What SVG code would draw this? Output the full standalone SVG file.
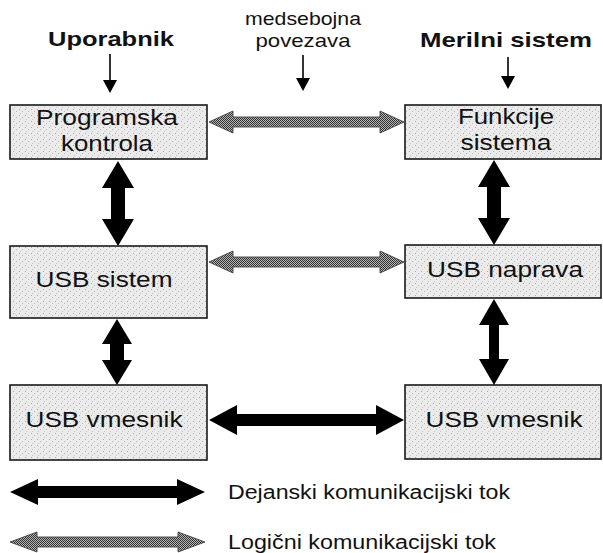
<svg xmlns="http://www.w3.org/2000/svg" width="603" height="553" viewBox="0 0 603 553">
<defs>
<pattern id="chk" width="2" height="2" patternUnits="userSpaceOnUse">
<rect width="2" height="2" fill="#b4b4b4"/>
<rect width="1" height="1" fill="#333"/>
<rect x="1" y="1" width="1" height="1" fill="#333"/>
</pattern>
<pattern id="noise" width="6" height="6" patternUnits="userSpaceOnUse">
<rect width="6" height="6" fill="#ebebeb"/>
<rect x="1" y="1" width="1" height="1" fill="#aaa"/>
<rect x="4" y="3" width="1" height="1" fill="#bbb"/>
<rect x="2" y="5" width="1" height="1" fill="#c6c6c6"/>
</pattern>
</defs>
<style>
.box{fill:url(#noise);stroke:#1a1a1a;stroke-width:1.6}
.lbl{font-family:"Liberation Sans",Arial,sans-serif;font-size:22px;fill:#111;text-anchor:middle}
.hdr{font-family:"Liberation Sans",Arial,sans-serif;font-size:21px;font-weight:bold;fill:#111;text-anchor:middle}
.sm{font-family:"Liberation Sans",Arial,sans-serif;font-size:19px;fill:#111;text-anchor:middle}
.leg{font-family:"Liberation Sans",Arial,sans-serif;font-size:20px;fill:#111}
.blk{fill:#000}
.gry{fill:url(#chk);stroke:#444;stroke-width:0.9}
.thin{stroke:#000;stroke-width:1.6;fill:none}
</style>

<g id="hdr-uporabnik"><text class="hdr" x="111" y="46" textLength="126" lengthAdjust="spacingAndGlyphs">Uporabnik</text></g>
<g id="hdr-medsebojna"><text class="sm" x="303" y="25" textLength="116" lengthAdjust="spacingAndGlyphs">medsebojna</text><text class="sm" x="303" y="47" textLength="95" lengthAdjust="spacingAndGlyphs">povezava</text></g>
<g id="hdr-merilni"><text class="hdr" x="506" y="47" textLength="172" lengthAdjust="spacingAndGlyphs">Merilni sistem</text></g>

<g id="n-programska"><rect class="box" x="10" y="105" width="197" height="54"/><text class="lbl" x="107" y="125" textLength="142" lengthAdjust="spacingAndGlyphs">Programska</text><text class="lbl" x="107" y="151" textLength="92" lengthAdjust="spacingAndGlyphs">kontrola</text></g>
<g id="n-funkcije"><rect class="box" x="405" y="105" width="196" height="54"/><text class="lbl" x="506" y="124" textLength="96" lengthAdjust="spacingAndGlyphs">Funkcije</text><text class="lbl" x="506" y="150" textLength="91" lengthAdjust="spacingAndGlyphs">sistema</text></g>
<g id="n-usbsistem"><rect class="box" x="10" y="246" width="197" height="72"/><text class="lbl" x="104" y="287" textLength="137" lengthAdjust="spacingAndGlyphs">USB sistem</text></g>
<g id="n-usbnaprava"><rect class="box" x="405" y="245" width="196" height="53"/><text class="lbl" x="505" y="277" textLength="156" lengthAdjust="spacingAndGlyphs">USB naprava</text></g>
<g id="n-vmesnik1"><rect class="box" x="10" y="385" width="197" height="75"/><text class="lbl" x="104" y="427" textLength="157" lengthAdjust="spacingAndGlyphs">USB vmesnik</text></g>
<g id="n-vmesnik2"><rect class="box" x="405" y="385" width="196" height="74"/><text class="lbl" x="504" y="427" textLength="157" lengthAdjust="spacingAndGlyphs">USB vmesnik</text></g>

<g id="connectors">
<line class="thin" x1="110" y1="54" x2="110" y2="82"/><polygon class="blk" points="103,80 117,80 110,93"/>
<line class="thin" x1="303" y1="55" x2="303" y2="80"/><polygon class="blk" points="296,78 310,78 303,91"/>
<line class="thin" x1="508" y1="57" x2="508" y2="78"/><polygon class="blk" points="501,76 515,76 508,89"/>

<polygon class="gry" points="209,122 233,111 233,117 380,117 380,111 404,122 380,133 380,127 233,127 233,133"/>
<polygon class="gry" points="209,262 233,251 233,257 380,257 380,251 404,262 380,273 380,267 233,267 233,273"/>
<polygon class="blk" points="209,420 237,405 237,414 376,414 376,405 404,420 376,435 376,426 237,426 237,435"/>

<polygon class="blk" points="118,161 134,188 125,188 125,219 134,219 118,246 102,219 111,219 111,188 102,188"/>
<polygon class="blk" points="117,319 132,344 124,344 124,360 132,360 117,385 102,360 110,360 110,344 102,344"/>
<polygon class="blk" points="494,160 510,187 501,187 501,218 510,218 494,245 478,218 487,218 487,187 478,187"/>
<polygon class="blk" points="494,299 509,325 499,325 499,359 509,359 494,385 479,359 489,359 489,325 479,325"/>

<polygon class="blk" points="10,492 38,479 38,486 177,486 177,479 205,492 177,505 177,498 38,498 38,505"/>
<polygon class="gry" points="10,542 37,532 37,537 178,537 178,532 205,542 178,552 178,547 37,547 37,552"/>
</g>

<g id="legend-text">
<text class="leg" x="228" y="499" textLength="282" lengthAdjust="spacingAndGlyphs">Dejanski komunikacijski tok</text>
<text class="leg" x="228" y="549" textLength="268" lengthAdjust="spacingAndGlyphs">Logični komunikacijski tok</text>
</g>
</svg>
